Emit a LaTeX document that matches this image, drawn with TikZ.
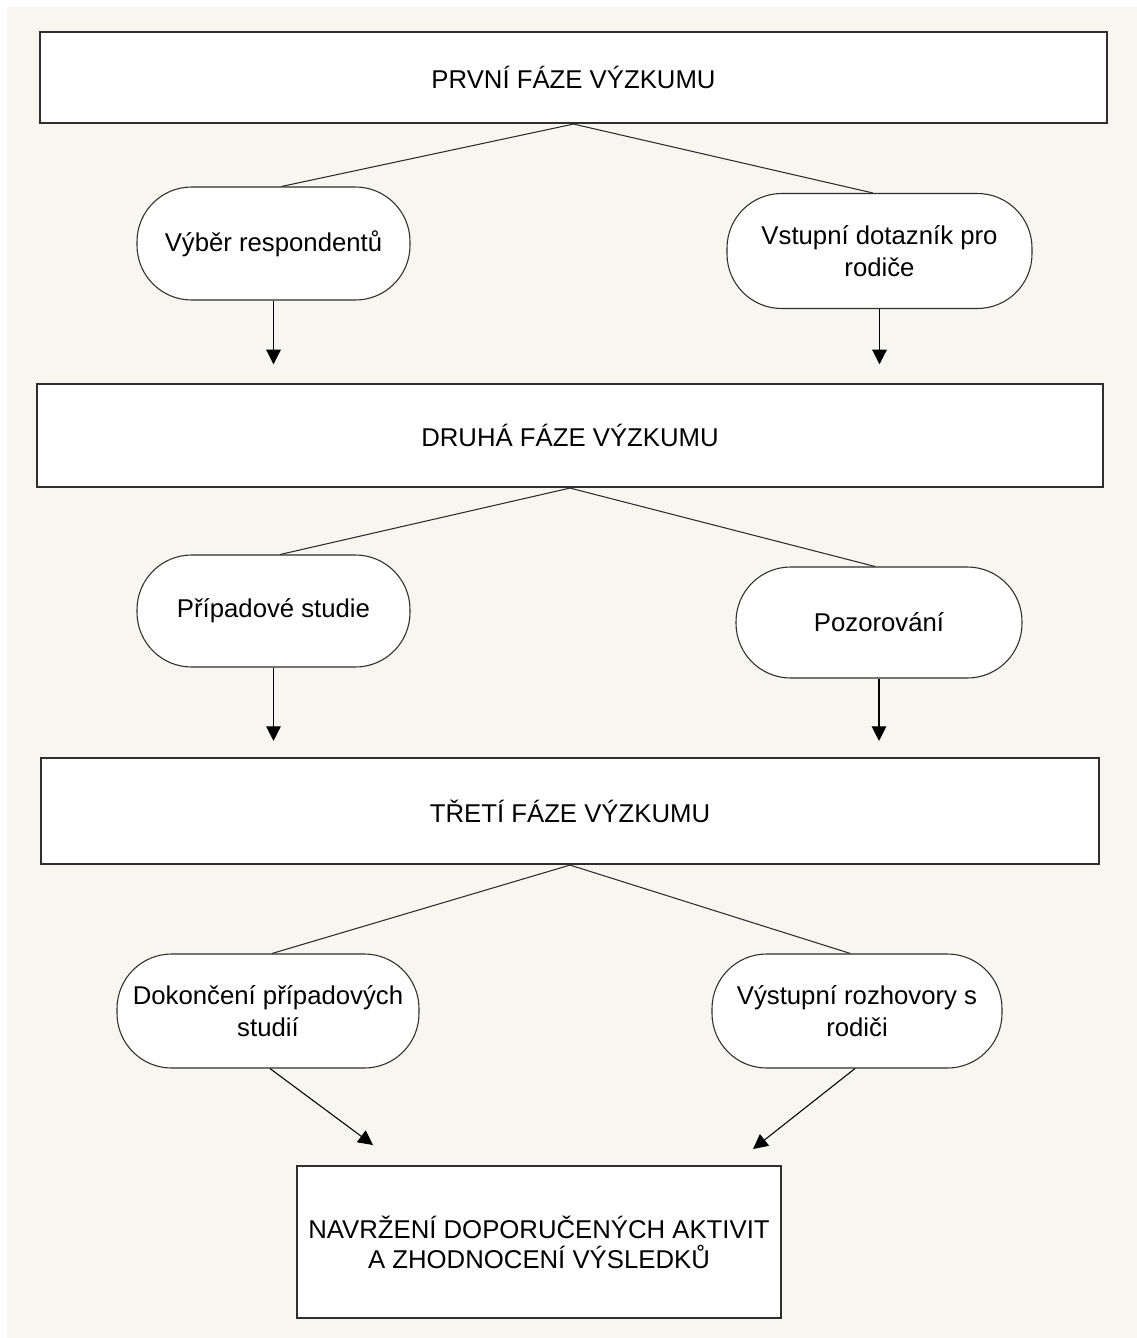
\documentclass[tikz,border=0pt]{standalone}
\usepackage{fontspec}
\setmainfont{Liberation Sans}
\usetikzlibrary{arrows.meta}
\definecolor{bgbeige}{HTML}{F8F6F0}
\definecolor{edge}{HTML}{2E2E2E}
\tikzset{
  phasebox/.style={draw=edge, line width=1.6pt, fill=white, inner sep=0pt, align=center,
    font=\fontsize{19.3pt}{23pt}\selectfont},
  pill/.style={draw=edge, line width=0.8pt, fill=white, inner sep=0pt, align=center,
    rounded corners=41pt, font=\fontsize{19.3pt}{23.5pt}\selectfont},
  link/.style={draw=edge, line width=0.8pt},
  arr/.style={draw=black, line width=0.8pt, -{Triangle[width=11pt,length=11pt]}},
}
\begin{document}
\begin{tikzpicture}[x=0.75pt, y=-0.75pt]
\useasboundingbox (0,0) rectangle (1137,1338);
\fill[white] (0,0) rectangle (1137,1338);
\fill[bgbeige] (7,7) rectangle (1137,1338);

% phase boxes
\node[phasebox, minimum width=800.25pt, minimum height=68.25pt] (b1) at (573.5,77.5) {PRVNÍ FÁZE VÝZKUMU};
\node[phasebox, minimum width=799.5pt, minimum height=77.25pt] (b2) at (570,435.5) {DRUHÁ FÁZE VÝZKUMU};
\node[phasebox, minimum width=793.5pt, minimum height=79.5pt] (b3) at (570,811) {TŘETÍ FÁZE VÝZKUMU};
\node[phasebox, minimum width=363pt, minimum height=114pt, font=\fontsize{19.3pt}{22.5pt}\selectfont] (b4) at (539,1242) {NAVRŽENÍ DOPORUČENÝCH AKTIVIT\\A ZHODNOCENÍ VÝSLEDKŮ};

% pills
\node[pill, minimum width=204.75pt, minimum height=84.75pt] (s1) at (273.5,243.5) {Výběr respondentů};
\node[pill, minimum width=228.75pt, minimum height=86.25pt] (s2) at (879.5,251) {Vstupní dotazník pro\\rodiče};
\node[pill, minimum width=204.75pt, minimum height=84pt] (s3) at (273.5,611) {Případové studie};
\node[pill, minimum width=214.5pt, minimum height=83.25pt] (s4) at (879,622.5) {Pozorování};
\node[pill, minimum width=226.5pt, minimum height=85.5pt] (s5) at (268,1011) {Dokončení případových\\studií};
\node[pill, minimum width=217.5pt, minimum height=85.5pt] (s6) at (857,1011) {Výstupní rozhovory s\\rodiči};

% tips of the two last arrows
\coordinate (t1) at (373,1145);
\coordinate (t2) at (753,1149);

% links from phase boxes
\draw[link] ([xshift=6pt]s1.north) -- (b1.south) -- ([xshift=-5pt]s2.north);
\draw[link] ([xshift=5pt]s3.north) -- (b2.south) -- ([xshift=-3pt]s4.north);
\draw[link] ([xshift=3pt]s5.north) -- (b3.south) -- ([xshift=-5pt]s6.north);

% arrows
\draw[arr, shorten >=14pt] (s1.south) -- (s1.south |- b2.north);
\draw[arr, shorten >=14pt] (s2.south) -- (s2.south |- b2.north);
\draw[arr, shorten >=12pt] (s3.south) -- (s3.south |- b3.north);
\draw[arr, shorten >=12pt] (s4.south) -- (s4.south |- b3.north);
\draw[arr] ([xshift=1.5pt]s5.south) -- (t1);
\draw[arr] ([xshift=-1.5pt]s6.south) -- (t2);
\end{tikzpicture}
\end{document}
